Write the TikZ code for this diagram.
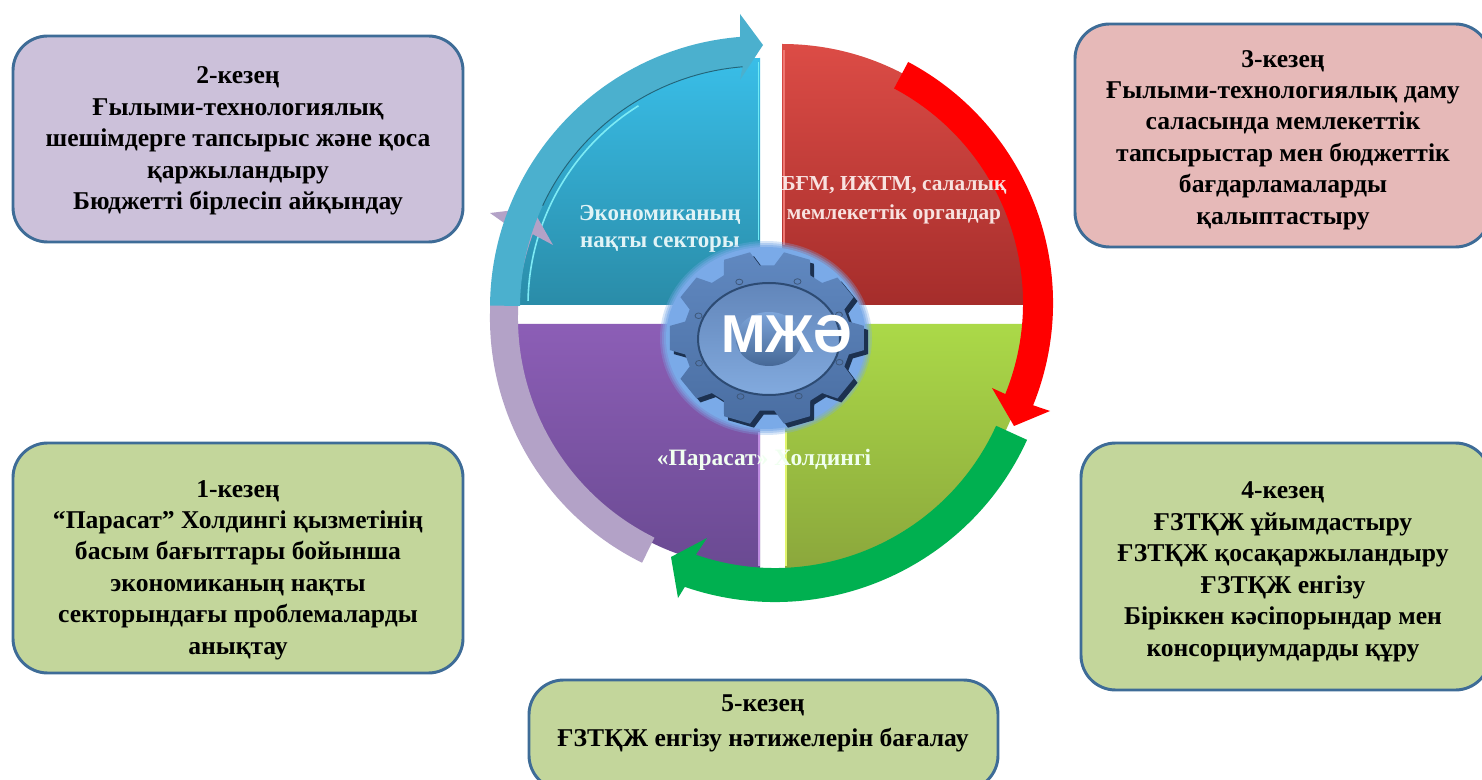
\documentclass[tikz,border=0pt]{standalone}
\usepackage{fontspec}
\setmainfont{Liberation Serif}
\newfontfamily\gearfont{Liberation Sans}
\definecolor{boxedge}{HTML}{3E6C97}
\definecolor{lilacbox}{HTML}{CCC1DA}
\definecolor{rosebox}{HTML}{E6B9B8}
\definecolor{greenbox}{HTML}{C3D69B}
\definecolor{tealarrow}{HTML}{4BB0CE}
\definecolor{lilacarrow}{HTML}{B3A2C7}
\definecolor{greenarrow}{HTML}{00B050}
\definecolor{gearbase}{HTML}{5F88BE}
\definecolor{gearhalo}{HTML}{7AAAE8}
\definecolor{geardark}{HTML}{1C3150}
\newcommand{\gearoutline}{(-13:84 and 73) \foreach \i in {0,...,9} { -- (36*\i-13:84 and 73) -- (36*\i-8:98 and 87) -- (36*\i+8:98 and 87) -- (36*\i+13:84 and 73) } -- cycle}
\tikzset{
  stagebox/.style={draw=boxedge,line width=2.2pt,rounded corners=26pt,inner sep=0pt},
  stagetext/.style={align=center,font=\fontsize{19.2}{23.6}\selectfont\bfseries,text=black,inner sep=0pt},
  sectortext/.style={align=center,font=\fontsize{17.2}{19.8}\selectfont\bfseries,inner sep=0pt}
}
\begin{document}
\begin{tikzpicture}[x=0.75pt,y=-0.75pt]
\useasboundingbox (0,0) rectangle (1482,780);
\fill[white] (0,0) rectangle (1482,780);

% stage boxes
\path[stagebox,fill=lilacbox] (13,36) rectangle (463,242);
\path[stagebox,fill=rosebox] (1075,24) rectangle (1490,247);
\path[stagebox,fill=greenbox] (13,443) rectangle (463,673);
\path[stagebox,fill=greenbox] (1081,443) rectangle (1490,690);
\path[stagebox,fill=greenbox] (529,680) rectangle (998,790);

\node[stagetext] (t2) at (238,141) {2-кезең\\Ғылыми-технологиялық\\шешімдерге тапсырыс және қоса\\қаржыландыру\\Бюджетті бірлесіп айқындау};
\node[stagetext] (t3) at (1283,140) {3-кезең\\Ғылыми-технологиялық даму\\саласында мемлекеттік\\тапсырыстар мен бюджеттік\\бағдарламаларды\\қалыптастыру};
\node[stagetext] (t1) at (238,570) {1-кезең\\“Парасат” Холдингі қызметінің\\басым бағыттары бойынша\\экономиканың нақты\\секторындағы проблемаларды\\анықтау};
\node[stagetext] (t4) at (1283,572) {4-кезең\\ҒЗТҚЖ ұйымдастыру\\ҒЗТҚЖ қосақаржыландыру\\ҒЗТҚЖ енгізу\\Біріккен кәсіпорындар мен\\консорциумдарды құру};
\node[stagetext,font=\fontsize{19.2}{26}\selectfont\bfseries] (t5) at (763,723.5) {5-кезең\\ҒЗТҚЖ енгізу нәтижелерін бағалау};

% sectors
\shade[top color={rgb,255:red,57;green,190;blue,232},bottom color={rgb,255:red,42;green,140;blue,168}]
  (760,305) -- ++(180:247) arc[start angle=180,end angle=270,radius=247] -- cycle;
\shade[top color={rgb,255:red,220;green,76;blue,70},bottom color={rgb,255:red,165;green,45;blue,43}]
  (782,305) -- ++(270:261) arc[start angle=270,end angle=360,radius=261] -- cycle;
\shade[top color={rgb,255:red,171;green,217;blue,72},bottom color={rgb,255:red,139;green,167;blue,60}]
  (785,324) -- ++(0:245) arc[start angle=0,end angle=90,radius=245] -- cycle;
\shade[top color={rgb,255:red,140;green,94;blue,182},bottom color={rgb,255:red,106;green,74;blue,146}]
  (760,324) -- ++(90:244) arc[start angle=90,end angle=180,radius=244] -- cycle;

% sector highlights
\draw[line width=1.2pt,color={rgb,255:red,110;green,235;blue,245}] (758.5,62) -- (758.5,240);
\draw[line width=1.2pt,color={rgb,255:red,125;green,235;blue,245}] ([shift={(181:232)}]760,305) arc[start angle=181,end angle=238,radius=235];
\draw[line width=1.4pt,color={rgb,255:red,240;green,120;blue,115}] (784,50) -- (784,245);
\draw[line width=1.4pt,color={rgb,255:red,225;green,245;blue,110}] (786,432) -- (786,566);
\draw[line width=1.2pt,color={rgb,255:red,190;green,140;blue,225}] (759,432) -- (759,566);

% ring arrows
\fill[lilacarrow]
  ([shift={(116.3:273)}]763,318) arc[start angle=116.3,end angle=200,radius=273]
  -- (490,213) -- (532,208) -- (553,245)
  -- ([shift={(200:245)}]763,318) arc[start angle=200,end angle=116.3,radius=245] -- cycle;
\fill[tealarrow]
  ([shift={(180.5:272)}]762,308) arc[start angle=180.5,end angle=265.4,radius=272]
  -- (740,14) -- (763,45) -- (740,80)
  -- ([shift={(265.4:242)}]762,308) arc[start angle=265.4,end angle=180.5,radius=242] -- cycle;
\draw[line width=0.7pt,color={rgb,255:red,35;green,100;blue,120}]
  ([shift={(205:242)}]762,308) arc[start angle=205,end angle=265.4,radius=242];
\fill[red]
  ([shift={(298:273)}]780,303) arc[start angle=298,end angle=382,radius=273]
  -- (1050,411) -- (1014,426) -- (992,388)
  -- ([shift={(382:243)}]780,303) arc[start angle=382,end angle=298,radius=243] -- cycle;
\fill[greenarrow]
  ([shift={(24.5:277)}]775,325) arc[start angle=24.5,end angle=109,radius=277]
  -- (678,598) -- (671,557) -- (707,538)
  -- ([shift={(109:243)}]775,325) arc[start angle=109,end angle=24.5,radius=243] -- cycle;

% sector labels
\node[sectortext,text={rgb,255:red,225;green,243;blue,246}] (s2) at (660,229) {Экономиканың\\нақты секторы};
\node[sectortext,font=\fontsize{16}{21.6}\selectfont\bfseries,text={rgb,255:red,248;green,226;blue,224}] (s3) at (894,200) {БҒМ, ИЖТМ, салалық\\мемлекеттік органдар};
\node[sectortext,font=\fontsize{17.6}{20}\selectfont\bfseries,text=white!94!green] (s1) at (764,460) {«Парасат» Холдингі};

% gear halo
\foreach \o/\rx/\ry in {0.3/106/97,0.4/104/95,0.55/102/93,1/100/91}
  \fill[gearhalo,opacity=\o] (766,338) ellipse[x radius=\rx,y radius=\ry];
% gear shadow and body
\fill[geardark,shift={(771,342)}] \gearoutline;
\shade[top color={rgb,255:red,96;green,136;blue,192},bottom color={rgb,255:red,74;green,110;blue,162},shift={(767,338)}] \gearoutline;
\shade[shift={(769,339)},top color={rgb,255:red,98;green,134;blue,186},bottom color={rgb,255:red,130;green,170;blue,222}]
  (0,0) ellipse[x radius=71,y radius=56];
\draw[color={rgb,255:red,45;green,75;blue,115},line width=1.5pt,shift={(769,339)}] (0,0) ellipse[x radius=71,y radius=56];
\shade[shift={(769,339)},top color={rgb,255:red,125;green,165;blue,218},bottom color={rgb,255:red,70;green,104;blue,150}]
  (0,0) ellipse[x radius=33,y radius=27];
\foreach \a in {22,67,112,157,202,247,292,337}
  \draw[gearbase!65!black,line width=0.6pt,shift={(769,339)}] (\a:76 and 62) ellipse[x radius=3.5,y radius=2.8];
\node[font=\gearfont\bfseries\fontsize{40}{40}\selectfont,text=white,inner sep=0pt] (mje) at (787,334) {МЖӘ};
\end{tikzpicture}
\end{document}
